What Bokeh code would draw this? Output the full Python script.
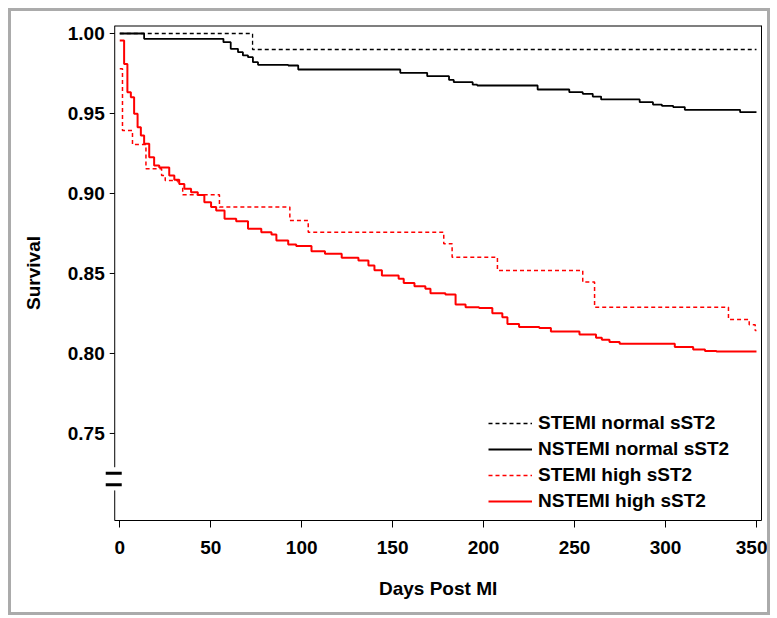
from bokeh.plotting import figure
from bokeh.models import (Range1d, FixedTicker, LinearAxis, Legend, LegendItem, Label)
from bokeh.core.properties import value
from bokeh.embed import file_html
from bokeh.resources import INLINE

# ---------------- data ----------------
x_ticks = [0, 50, 100, 150, 200, 250, 300, 350]
y_ticks = [0.75, 0.80, 0.85, 0.90, 0.95, 1.00]

stemi_normal_days = [0, 73, 350]
stemi_normal_surv = [1.0, 0.990, 0.990]

nstemi_normal_days = [0, 13.4, 57, 61, 65, 67.7, 70.5, 73.2, 76, 92.6, 98.1, 154.2, 169,
                      181, 183.6, 194, 196.5, 229.7, 247.1, 254.5, 260, 264.6, 285.8,
                      293.1, 298, 304.2, 310.6, 341, 350]
nstemi_normal_surv = [1.0, 0.9967, 0.9946, 0.9904, 0.9883, 0.9863, 0.9852, 0.9821, 0.9804,
                      0.9800, 0.9775, 0.9754, 0.9733, 0.9710, 0.9696, 0.9680, 0.9675,
                      0.9650, 0.9633, 0.9623, 0.9606, 0.9588, 0.9571, 0.9556, 0.9548,
                      0.9540, 0.9523, 0.9508, 0.9508]

stemi_high_days = [0, 1.5, 7, 14.4, 23, 25, 32, 34.6, 54.8, 93.5, 103.6, 178.1, 182.7,
                   207.6, 254.5, 261, 334.6, 346, 349.3, 350]
stemi_high_surv = [0.978, 0.9394, 0.9306, 0.9154, 0.9113, 0.9081, 0.9060, 0.8992, 0.8915,
                   0.8831, 0.8758, 0.8686, 0.8602, 0.8519, 0.8446, 0.8289, 0.8213, 0.8180,
                   0.8144, 0.8144]

nstemi_high_days = [0, 2.4, 4.2, 6.1, 7.9, 9.8, 11.6, 13.4, 16.2, 18.9, 21.7, 27.2, 30,
                    32.7, 35.5, 39.2, 42.9, 46.5, 50.2, 53, 57.6, 64, 70.5, 77.8, 83.4,
                    86.1, 92.6, 97, 105.4, 112.8, 122, 131.2, 136.7, 140, 144.1, 153.3,
                    156.1, 162, 168, 170.8, 179, 184.6, 190.1, 197.5, 204.8, 210.3,
                    213.1, 219.5, 230.6, 237, 252.7, 261.8, 265, 269.2, 274.8, 305.1,
                    315.2, 321.7, 328, 350]
nstemi_high_surv = [0.9956, 0.9810, 0.9633, 0.9602, 0.9498, 0.9414, 0.9363, 0.9311,
                    0.9227, 0.9175, 0.9163, 0.9113, 0.9086, 0.9060, 0.9029, 0.9008,
                    0.8990, 0.8946, 0.8915, 0.8894, 0.8842, 0.8827, 0.8779, 0.8758,
                    0.8744, 0.8706, 0.8681, 0.8672, 0.8639, 0.8623, 0.8598, 0.8581,
                    0.8550, 0.8520, 0.8488, 0.8467, 0.8440, 0.8420, 0.8404, 0.8377,
                    0.8369, 0.8306, 0.8289, 0.8285, 0.8252, 0.8227, 0.8185, 0.8165,
                    0.8160, 0.8138, 0.8119, 0.8098, 0.8085, 0.8071, 0.8061, 0.8040,
                    0.8025, 0.8015, 0.8012, 0.8012]

labels = ["STEMI normal sST2", "NSTEMI normal sST2", "STEMI high sST2", "NSTEMI high sST2"]
x_label = "Days Post MI"
y_label = "Survival"

# ---------------- styling / geometry ----------------
FONT = "Liberation Sans"
FS = "19px"
FSTYLE = "bold"

W, H = 762, 607
ML, MR, MT, MB = 49, 12, 14, 98           # borders around the frame
X0, X1 = -32.57, 352.76                   # frame extends left to hold the broken y axis
Y0, Y1 = 0.6956, 1.005
AX_X = -2.76                              # x position of the drawn y axis
BREAK_LO, BREAK_HI = 0.7144, 0.7289       # axis break gap
MARK_A, MARK_B = 0.7179, 0.7252           # break marks

FRAME_W = W - ML - MR
FRAME_H = H - MT - MB
PX_X = FRAME_W / (X1 - X0)                # px per day
PX_Y = FRAME_H / (Y1 - Y0)                # px per survival unit
def dx(n):
    return n / PX_X
def dy(n):
    return n / PX_Y

p = figure(width=W, height=H, output_backend="svg", toolbar_location=None,
           x_range=Range1d(X0, X1), y_range=Range1d(Y0, Y1),
           min_border_left=ML, min_border_right=MR, min_border_top=MT,
           min_border_bottom=MB, y_axis_label=y_label)
p.styles = {"border": "3px solid #ababab", "margin-left": "8px", "margin-top": "8px"}
p.background_fill_color = "white"
p.border_fill_color = "white"
p.outline_line_color = None
p.xgrid.grid_line_color = None
p.ygrid.grid_line_color = None

# x axis: bounded so that its line spans only the drawn plot box
xa = p.xaxis[0]
xa.ticker = FixedTicker(ticks=x_ticks)
xa.bounds = (AX_X, X1)
xa.axis_line_color = "black"
xa.axis_line_width = 1
xa.major_tick_line_color = "black"
xa.major_tick_in = 0
xa.major_tick_out = 7
xa.minor_tick_line_color = None
xa.major_label_standoff = 13
xa.major_label_text_font = FONT
xa.major_label_text_font_size = FS
xa.major_label_text_font_style = FSTYLE
xa.major_label_text_color = "black"

# x axis title, centred under the drawn plot box
p.add_layout(Label(x=(AX_X + X1) / 2, y=Y0 - dy(68), text=x_label,
                   text_align="center", text_baseline="middle",
                   text_font=FONT, text_font_size=FS, text_font_style=FSTYLE,
                   text_color="black"), "below")

# y axis: only its title (the broken axis is drawn as glyphs)
ya = p.yaxis[0]
ya.ticker = FixedTicker(ticks=[])
ya.axis_line_color = None
ya.major_tick_line_color = None
ya.minor_tick_line_color = None
ya.major_tick_out = 0
ya.major_label_standoff = 0
ya.axis_label_standoff = 17
ya.axis_label_text_font = FONT
ya.axis_label_text_font_size = FS
ya.axis_label_text_font_style = FSTYLE
ya.axis_label_text_color = "black"

# right frame line
p.add_layout(LinearAxis(ticker=FixedTicker(ticks=[]), axis_line_color="black",
                        major_tick_line_color=None, minor_tick_line_color=None), "right")

# frame lines (left broken axis, top)
p.segment(x0=[AX_X, AX_X], y0=[Y0, BREAK_HI], x1=[AX_X, AX_X], y1=[BREAK_LO, Y1],
          line_color="black", line_width=1)
p.segment(x0=[AX_X], y0=[Y1], x1=[X1], y1=[Y1], line_color="black", line_width=2)
# y ticks and labels
p.segment(x0=[AX_X - dx(5)] * len(y_ticks), y0=y_ticks,
          x1=[AX_X] * len(y_ticks), y1=y_ticks, line_color="black", line_width=1)
p.text(x=[AX_X - dx(10)] * len(y_ticks), y=y_ticks, text=[f"{t:.2f}" for t in y_ticks],
       text_align="right", text_baseline="middle", text_color="black",
       text_font=value(FONT), text_font_size=value(FS), text_font_style=FSTYLE)
# break marks
p.segment(x0=[AX_X - dx(9)] * 2, y0=[MARK_A, MARK_B], x1=[AX_X + dx(7)] * 2,
          y1=[MARK_A, MARK_B], line_color="black", line_width=3)

r1 = p.step(stemi_normal_days, stemi_normal_surv, mode="after",
            line_color="black", line_dash="4 3", line_width=1.3)
r2 = p.step(nstemi_normal_days, nstemi_normal_surv, mode="after",
            line_color="black", line_width=1.8)
r3 = p.step(stemi_high_days, stemi_high_surv, mode="after",
            line_color="#ff0000", line_dash="4 3", line_width=1.5)
r4 = p.step(nstemi_high_days, nstemi_high_surv, mode="after",
            line_color="#ff0000", line_width=2)

legend = Legend(items=[LegendItem(label=l, renderers=[r]) for l, r in
                       zip(labels, [r1, r2, r3, r4])],
                location=(428, 6), orientation="vertical",
                glyph_width=44, glyph_height=26, label_height=26, label_standoff=6,
                spacing=0, padding=0, margin=0,
                border_line_color=None, background_fill_alpha=0,
                label_text_font=FONT, label_text_font_size=FS,
                label_text_font_style=FSTYLE, label_text_color="black")
p.add_layout(legend)

open("out.html", "w").write(file_html(p, INLINE))
